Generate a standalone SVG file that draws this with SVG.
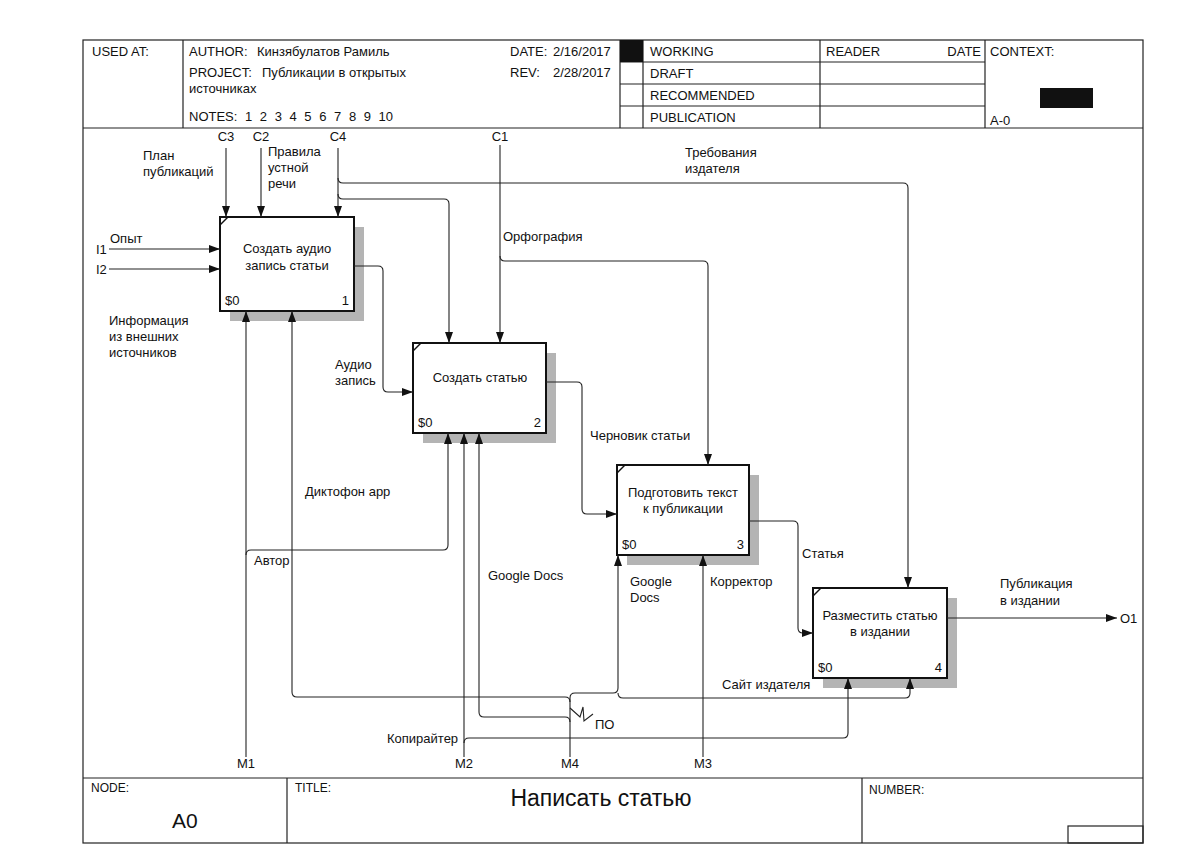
<svg xmlns="http://www.w3.org/2000/svg" width="1202" height="867" viewBox="0 0 1202 867">
<style>
text{font-family:"Liberation Sans",Arial,sans-serif;font-size:13px;fill:#111}
.frame{fill:none;stroke:#222;stroke-width:1.2}
.box{fill:#fff;stroke:#111;stroke-width:2}
.shadow{fill:#b4b4b4}
.c{fill:none;stroke:#222;stroke-width:1.1}
.mid{text-anchor:middle}
.end{text-anchor:end}
</style>
<defs>
<marker id="ah" markerWidth="11" markerHeight="8" refX="11" refY="4" orient="auto" markerUnits="userSpaceOnUse">
<path d="M0,0 L11,4 L0,8 z" fill="#111"/>
</marker>
</defs>
<rect width="1202" height="867" fill="#fff"/>

<g id="frame">
<rect class="frame" x="83" y="40" width="1060" height="803"/>
<line class="frame" x1="83" y1="128" x2="1143" y2="128"/>
<line class="frame" x1="83" y1="778" x2="1143" y2="778"/>
<line class="frame" x1="183" y1="40" x2="183" y2="128"/>
<line class="frame" x1="620" y1="40" x2="620" y2="128"/>
<line class="frame" x1="643" y1="40" x2="643" y2="128"/>
<line class="frame" x1="820" y1="40" x2="820" y2="128"/>
<line class="frame" x1="985" y1="40" x2="985" y2="128"/>
<line class="frame" x1="620" y1="62" x2="985" y2="62"/>
<line class="frame" x1="620" y1="84" x2="985" y2="84"/>
<line class="frame" x1="620" y1="106" x2="985" y2="106"/>
<rect x="620" y="40" width="23" height="22" fill="#111"/>
<rect x="1040" y="88" width="53" height="20" fill="#111"/>
<line class="frame" x1="287" y1="778" x2="287" y2="843"/>
<line class="frame" x1="862" y1="778" x2="862" y2="843"/>
<rect class="frame" x="1068" y="826" width="75" height="17"/>
<text x="92" y="56">USED AT:</text>
<text x="189" y="56">AUTHOR:</text>
<text x="257" y="56">Кинзябулатов Рамиль</text>
<text x="189" y="77">PROJECT:</text>
<text x="262" y="77">Публикации в открытых</text>
<text x="189" y="93">источниках</text>
<text x="189" y="121">NOTES:</text>
<text x="245" y="121" style="word-spacing:4px">1 2 3 4 5 6 7 8 9 10</text>
<text x="510" y="56">DATE:</text>
<text x="553" y="56">2/16/2017</text>
<text x="510" y="77">REV:</text>
<text x="553" y="77">2/28/2017</text>
<text x="650" y="56">WORKING</text>
<text x="650" y="78">DRAFT</text>
<text x="650" y="100">RECOMMENDED</text>
<text x="650" y="122">PUBLICATION</text>
<text x="826" y="56">READER</text>
<text x="981" y="56" class="end">DATE</text>
<text x="990" y="56">CONTEXT:</text>
<text x="990" y="125">A-0</text>
<text x="91" y="792" style="font-size:12px">NODE:</text>
<text x="172" y="828" style="font-size:21px">A0</text>
<text x="295" y="792" style="font-size:12px">TITLE:</text>
<text x="601" y="806" class="mid" style="font-size:23px">Написать статью</text>
<text x="869" y="794" style="font-size:12px">NUMBER:</text>
</g>

<g id="box1">
<rect class="shadow" x="230" y="227" width="134" height="94"/>
<rect class="box" x="220" y="217" width="134" height="94"/>
<line x1="220" y1="225" x2="228" y2="217" stroke="#111" stroke-width="1.5"/>
<text x="287" y="253" class="mid">Создать аудио</text>
<text x="287" y="270" class="mid">запись статьи</text>
<text x="225" y="305">$0</text>
<text x="349" y="305" class="end">1</text>
</g>
<g id="box2">
<rect class="shadow" x="423" y="353" width="133" height="90"/>
<rect class="box" x="413" y="343" width="133" height="90"/>
<line x1="413" y1="351" x2="421" y2="343" stroke="#111" stroke-width="1.5"/>
<text x="480" y="382" class="mid">Создать статью</text>
<text x="418" y="427">$0</text>
<text x="541" y="427" class="end">2</text>
</g>
<g id="box3">
<rect class="shadow" x="627" y="475" width="132" height="90"/>
<rect class="box" x="617" y="465" width="132" height="90"/>
<line x1="617" y1="473" x2="625" y2="465" stroke="#111" stroke-width="1.5"/>
<text x="683" y="497" class="mid">Подготовить текст</text>
<text x="683" y="513" class="mid">к публикации</text>
<text x="622" y="549">$0</text>
<text x="744" y="549" class="end">3</text>
</g>
<g id="box4">
<rect class="shadow" x="823" y="598" width="134" height="90"/>
<rect class="box" x="813" y="588" width="134" height="90"/>
<line x1="813" y1="596" x2="821" y2="588" stroke="#111" stroke-width="1.5"/>
<text x="880" y="620" class="mid">Разместить статью</text>
<text x="880" y="636" class="mid">в издании</text>
<text x="818" y="672">$0</text>
<text x="942" y="672" class="end">4</text>
</g>

<g id="connectors">
<!-- inputs -->
<path class="c" d="M109,249 H220" marker-end="url(#ah)"/>
<path class="c" d="M109,269 H220" marker-end="url(#ah)"/>
<text x="96" y="254">I1</text>
<text x="96" y="274">I2</text>
<text x="110" y="243">Опыт</text>
<text x="109" y="325">Информация</text>
<text x="109" y="341">из внешних</text>
<text x="109" y="357">источников</text>
<!-- controls -->
<path class="c" d="M226,148 V217" marker-end="url(#ah)"/>
<path class="c" d="M261,148 V217" marker-end="url(#ah)"/>
<path class="c" d="M338,148 V217" marker-end="url(#ah)"/>
<path class="c" d="M338,178 Q338,183 343,183 H903 Q908,183 908,188 V588" marker-end="url(#ah)"/>
<path class="c" d="M338,194 Q338,199 343,199 H444 Q449,199 449,204 V343" marker-end="url(#ah)"/>
<path class="c" d="M500,145 V343" marker-end="url(#ah)"/>
<path class="c" d="M500,256 Q500,261 505,261 H703 Q708,261 708,266 V465" marker-end="url(#ah)"/>
<text x="226" y="141" class="mid">C3</text>
<text x="261" y="141" class="mid">C2</text>
<text x="338" y="141" class="mid">C4</text>
<text x="500" y="141" class="mid">C1</text>
<text x="143" y="160">План</text>
<text x="143" y="176">публикаций</text>
<text x="268" y="156">Правила</text>
<text x="268" y="172">устной</text>
<text x="268" y="188">речи</text>
<text x="685" y="157">Требования</text>
<text x="685" y="173">издателя</text>
<text x="503" y="241">Орфография</text>
<!-- flows between boxes -->
<path class="c" d="M354,266 H378 Q383,266 383,271 V387 Q383,392 388,392 H413" marker-end="url(#ah)"/>
<path class="c" d="M546,382 H577 Q582,382 582,387 V509 Q582,514 587,514 H617" marker-end="url(#ah)"/>
<path class="c" d="M749,521 H793 Q798,521 798,526 V628 Q798,633 803,633 H813" marker-end="url(#ah)"/>
<path class="c" d="M947,618 H1117" marker-end="url(#ah)"/>
<text x="1120" y="623">O1</text>
<text x="335" y="369">Аудио</text>
<text x="335" y="385">запись</text>
<text x="590" y="440">Черновик статьи</text>
<text x="802" y="558">Статья</text>
<text x="1000" y="588">Публикация</text>
<text x="1000" y="605">в издании</text>
<!-- mechanisms -->
<path class="c" d="M246,757 V311" marker-end="url(#ah)"/>
<path class="c" d="M246,555 Q246,550 251,550 H443 Q448,550 448,545 V433" marker-end="url(#ah)"/>
<path class="c" d="M464,757 V433" marker-end="url(#ah)"/>
<path class="c" d="M464,743 Q464,738 469,738 H843 Q848,738 848,733 V678" marker-end="url(#ah)"/>
<path class="c" d="M703,757 V555" marker-end="url(#ah)"/>
<path class="c" d="M570,757 V698 Q570,693 575,693 H613 Q618,693 618,688 V555" marker-end="url(#ah)"/>
<path class="c" d="M618,693 Q618,698 623,698 H905 Q910,698 910,693 V678" marker-end="url(#ah)"/>
<path class="c" d="M570,702 Q570,697 565,697 H297 Q292,697 292,692 V311" marker-end="url(#ah)"/>
<path class="c" d="M570,722 Q570,717 565,717 H484 Q479,717 479,712 V433" marker-end="url(#ah)"/>
<path class="c" d="M570,708 L580,717 L583,707 L584,721 L593,714"/>
<text x="246" y="768" class="mid">M1</text>
<text x="464" y="768" class="mid">M2</text>
<text x="570" y="768" class="mid">M4</text>
<text x="703" y="768" class="mid">M3</text>
<text x="305" y="496">Диктофон app</text>
<text x="254" y="565">Автор</text>
<text x="488" y="580">Google Docs</text>
<text x="630" y="586">Google</text>
<text x="630" y="602">Docs</text>
<text x="710" y="586">Корректор</text>
<text x="722" y="689">Сайт издателя</text>
<text x="387" y="743">Копирайтер</text>
<text x="595" y="729">ПО</text>
</g>
</svg>
